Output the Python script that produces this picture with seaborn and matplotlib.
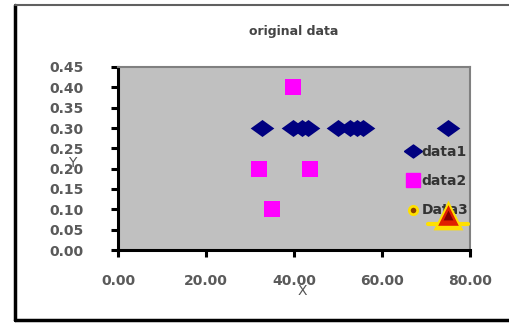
import matplotlib
matplotlib.use("Agg")
import matplotlib.pyplot as plt
import seaborn as sns
import numpy as np
from matplotlib.lines import Line2D
from matplotlib.ticker import FormatStrFormatter

# data
data1_x = [32.7, 39.8, 41.8, 43.2, 50.0, 52.7, 54.3, 55.7, 75.0]
data1_y = [0.30, 0.30, 0.30, 0.30, 0.30, 0.30, 0.30, 0.30, 0.30]
data2_x = [39.8, 32.1, 43.6, 35.0]
data2_y = [0.40, 0.20, 0.20, 0.10]
data3_x = [75.0]
data3_y = [0.085]
series_names = ["data1", "data2", "Data3"]
title = "original data"
x_ticks = [0, 20, 40, 60, 80]
y_ticks = [0.00, 0.05, 0.10, 0.15, 0.20, 0.25, 0.30, 0.35, 0.40, 0.45]

sns.set_style("white")
plt.rcParams['font.family'] = ['DejaVu Sans']

fig = plt.figure(figsize=(5.09, 3.28), dpi=100)
fig.patch.set_facecolor("white")

# outer chart border
fig.add_artist(Line2D([15/509, 15/509], [1-5/328, 1-320/328], transform=fig.transFigure, color="black", lw=2.5))
fig.add_artist(Line2D([15/509, 1.0], [1-320/328, 1-320/328], transform=fig.transFigure, color="black", lw=2.5))
fig.add_artist(Line2D([15/509, 1.0], [1-5/328, 1-5/328], transform=fig.transFigure, color="#606060", lw=1.5))

ax = fig.add_axes([118/509, 1-250/328, 352/509, 183/328])
ax.set_facecolor("#C0C0C0")

diamond = [(-1, 0), (0, 0.72), (1, 0), (0, -0.72), (-1, 0)]
sns.scatterplot(x=data1_x, y=data1_y, ax=ax, marker=diamond, s=290, color="#000080",
                edgecolor="#000080", linewidth=0, zorder=3)
sns.scatterplot(x=data2_x, y=data2_y, ax=ax, marker="s", s=120, color="#FF00FF",
                edgecolor="#FF00FF", linewidth=0, zorder=3)

ax.set_xlim(0, 80)
ax.set_ylim(0, 0.45)
ax.set_xticks(x_ticks)
ax.set_yticks(y_ticks)
ax.xaxis.set_major_formatter(FormatStrFormatter("%.2f"))
ax.yaxis.set_major_formatter(FormatStrFormatter("%.2f"))

for side in ["left", "bottom"]:
    ax.spines[side].set_color("black")
    ax.spines[side].set_linewidth(2.2)
for side in ["top", "right"]:
    ax.spines[side].set_color("#808080")
    ax.spines[side].set_linewidth(1.5)

ax.tick_params(axis="both", which="major", direction="out", length=5, width=2.2,
               color="black", labelcolor="#5a5a5a", labelsize=10)
ax.tick_params(axis="x", pad=12)
ax.tick_params(axis="y", pad=20)
ax.tick_params(axis="both", left=True, bottom=True)
for lab in ax.get_xticklabels() + ax.get_yticklabels():
    lab.set_fontweight("bold")

ax.set_title(title, color="#444444", fontsize=9, fontweight="bold", y=1.13)

ax.set_xlabel("X", color="#555555", fontsize=10)
ax.xaxis.set_label_coords(0.523, -0.185)
ax.set_ylabel("Y", color="#555555", fontsize=10, rotation=0)
ax.yaxis.set_label_coords(-0.13, 0.435)

# legend (drawn before data3 so data3 overlaps it)
handles = [
    Line2D([], [], marker=diamond, markersize=13, color="#000080", linestyle="none"),
    Line2D([], [], marker="s", markersize=10, color="#FF00FF", linestyle="none"),
    Line2D([], [], marker="o", markersize=6, markerfacecolor="#8B4000", markeredgecolor="#FFE000",
           markeredgewidth=2, linestyle="none"),
]
leg = ax.legend(handles, series_names, loc="upper left", bbox_to_anchor=(0.80, 0.605),
                frameon=False, fontsize=10, labelspacing=1.1, handletextpad=0.0,
                handlelength=1.2, borderaxespad=0)
for t in leg.get_texts():
    t.set_color("#333333")
    t.set_fontweight("bold")
leg.set_zorder(2)

# data3: layered triangle markers
ax.plot([70.5, 79.5], [0.065, 0.065], color="#FFE000", lw=3, zorder=4, clip_on=False)
sns.scatterplot(x=data3_x, y=data3_y, ax=ax, marker="^", s=460, color="#FFE000",
                edgecolor="#FFE000", linewidth=0, zorder=5, clip_on=False)
sns.scatterplot(x=data3_x, y=data3_y, ax=ax, marker="^", s=220, color="#E02000",
                edgecolor="#E02000", linewidth=0, zorder=6, clip_on=False)
sns.scatterplot(x=data3_x, y=data3_y, ax=ax, marker="^", s=50, color="#800000",
                edgecolor="#800000", linewidth=0, zorder=7, clip_on=False)

fig.savefig("out.png", dpi=100)
